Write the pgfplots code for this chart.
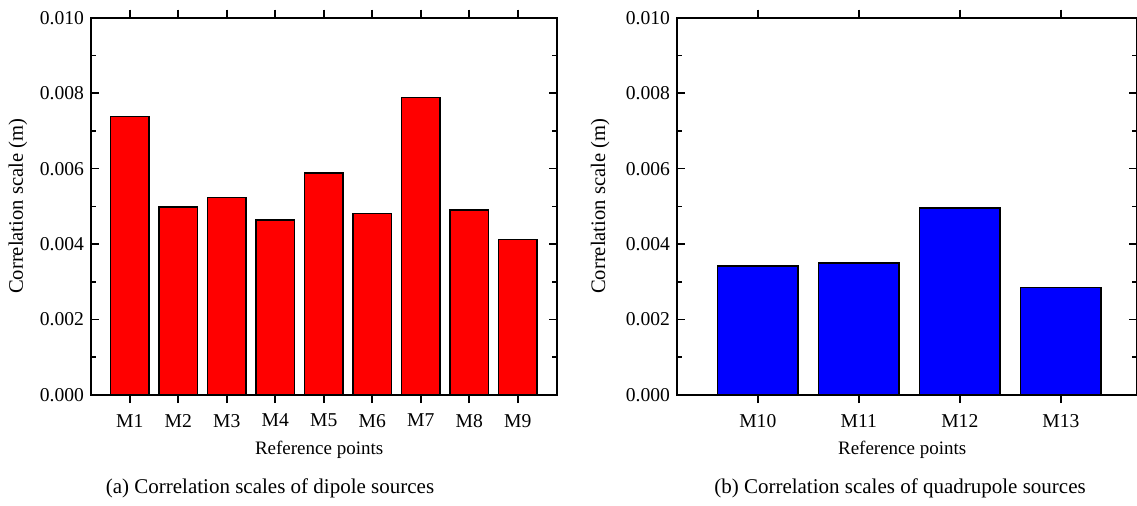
\documentclass[border=0pt]{standalone}
\usepackage{fontspec}
\setmainfont{Liberation Serif}
\usepackage{pgfplots}
\pgfplotsset{compat=1.18}
\pgfplotsset{
  myax/.style={
    scale only axis, height=188.65pt, ymin=0, ymax=0.010,
    ytick={0,0.002,0.004,0.006,0.008,0.010},
    minor ytick={0.001,0.003,0.005,0.007,0.009},
    tick align=inside, major tick length=4pt, minor tick length=2.5pt,
    axis line style={line width=1pt},
    every tick/.style={black, line width=0.8pt},
    scaled y ticks=false,
    yticklabel style={/pgf/number format/.cd, fixed, fixed zerofill, precision=3},
    /pgf/number format/assume math mode=true,
    ticklabel style={font=\fontsize{9.8}{11}\selectfont},
    xlabel style={font=\fontsize{9.5}{11}\selectfont},
    ylabel style={font=\fontsize{10.3}{12}\selectfont},
    ylabel={Correlation scale (m)}, xlabel={Reference points},
    xlabel style={at={(axis description cs:0.49,-0.1458)}, anchor=center},
    ybar, bar width=0.8,
    xtick=data,
    xticklabel style={yshift=-2pt},
    anchor=south west,
  }
}
\begin{document}
\begin{tikzpicture}
\path[use as bounding box] (0pt,0pt) rectangle (568.5pt,252.5pt);
\begin{axis}[myax, at={(45.5pt,55pt)}, width=232.8pt,
  xmin=0.2, xmax=9.8,
  xticklabels={M1,M2,M3,M4,M5,M6,M7,M8,M9},
  ylabel style={at={(axis description cs:-0.1567,0.5)}, anchor=center}]
\addplot[draw=black, line width=0.8pt, fill=red] coordinates {
(1,0.00738) (2,0.00499) (3,0.00523) (4,0.00464) (5,0.00589)
(6,0.00481) (7,0.00788) (8,0.00490) (9,0.00412)};
\end{axis}
\begin{axis}[myax, at={(338.5pt,55pt)}, width=229.8pt,
  xmin=9.2, xmax=13.75,
  xticklabels={M10,M11,M12,M13},
  ylabel style={at={(axis description cs:-0.167,0.5)}, anchor=center}]
\addplot[draw=black, line width=0.8pt, fill=blue] coordinates {
(10,0.00342) (11,0.00350) (12,0.00496) (13,0.00285)};
\end{axis}
\node[font=\fontsize{10.5}{12}\selectfont] at (135pt,8.5pt) {(a) Correlation scales of dipole sources};
\node[font=\fontsize{10.5}{12}\selectfont] at (450pt,8.5pt) {(b) Correlation scales of quadrupole sources};
\end{tikzpicture}
\end{document}
